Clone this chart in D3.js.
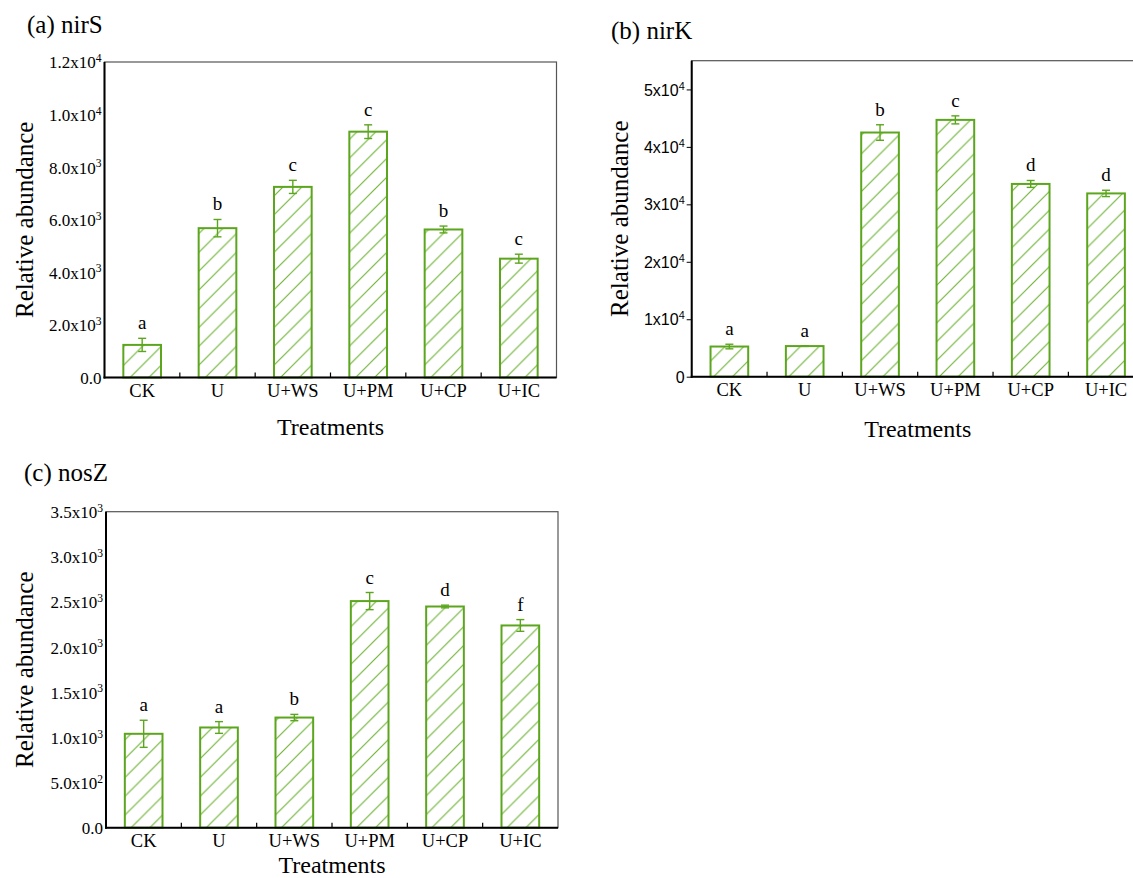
<!DOCTYPE html>
<html>
<head>
<meta charset="utf-8">
<script src="https://cdn.jsdelivr.net/npm/d3@7"></script>
<style>
  html, body { margin: 0; padding: 0; background: #fff; }
  svg { display: block; }
</style>
</head>
<body>
<svg id="chart" width="1133" height="878"></svg>
<script>
// ---------------- DATA ----------------
const categories = ["CK", "U", "U+WS", "U+PM", "U+CP", "U+IC"];

const nirSValues  = [1240, 5680, 7250, 9350, 5630, 4520];
const nirSErrors  = [250, 330, 250, 260, 130, 170];
const nirSLetters = ["a", "b", "c", "c", "b", "c"];
const nirSTicks   = [0, 2000, 4000, 6000, 8000, 10000, 12000];
const nirSTickLabels = ["0.0", "2.0x10^3", "4.0x10^3", "6.0x10^3", "8.0x10^3", "1.0x10^4", "1.2x10^4"];

const nirKValues  = [5250, 5330, 42500, 44700, 33550, 31900];
const nirKErrors  = [400, 60, 1350, 700, 600, 550];
const nirKLetters = ["a", "a", "b", "c", "d", "d"];
const nirKTicks   = [0, 10000, 20000, 30000, 40000, 50000];
const nirKTickLabels = ["0", "1x10^4", "2x10^4", "3x10^4", "4x10^4", "5x10^4"];

const nosZValues  = [1040, 1110, 1220, 2510, 2450, 2240];
const nosZErrors  = [150, 65, 35, 95, 15, 65];
const nosZLetters = ["a", "a", "b", "c", "d", "f"];
const nosZTicks   = [0, 500, 1000, 1500, 2000, 2500, 3000, 3500];
const nosZTickLabels = ["0.0", "5.0x10^2", "1.0x10^3", "1.5x10^3", "2.0x10^3", "2.5x10^3", "3.0x10^3", "3.5x10^3"];

const xTitle = "Treatments";
const yTitle = "Relative abundance";

// ---------------- STYLE / LAYOUT ----------------
const GREEN = "#5ca61e";
const HATCH = "#6db234";
const SERIF = "'Liberation Serif', 'Times New Roman', serif";
const SANS  = "'Liberation Sans', Arial, sans-serif";

const svg = d3.select("#chart");
svg.append("rect").attr("width", 1133).attr("height", 878).attr("fill", "#fff");

const defs = svg.append("defs");
const P = 18.8;
const pat = defs.append("pattern")
  .attr("id", "hatch")
  .attr("patternUnits", "userSpaceOnUse")
  .attr("width", P).attr("height", P);
pat.append("rect").attr("width", P).attr("height", P).attr("fill", "#fff");
pat.append("path")
  .attr("d", `M0,${P} L${P},0 M${-P/4},${P/4} L${P/4},${-P/4} M${P*3/4},${P*5/4} L${P*5/4},${P*3/4}`)
  .attr("stroke", HATCH).attr("stroke-width", 1.1).attr("fill", "none");

const panels = [
  { title: "(a) nirS", tx: 27, ty: 33, left: 104.5, top: 62, bottom: 377.5, width: 452,
    values: nirSValues, errors: nirSErrors, letters: nirSLetters,
    ticks: nirSTicks, tickLabels: nirSTickLabels, max: 12000, sans: false, yTickLen: 0,
    yTitleX: 33, xTitleY: 435 },
  { title: "(b) nirK", tx: 611, ty: 39, left: 691.7, top: 60.7, bottom: 376.7, width: 452,
    values: nirKValues, errors: nirKErrors, letters: nirKLetters,
    ticks: nirKTicks, tickLabels: nirKTickLabels, max: 55000, sans: true, yTickLen: 5,
    yTitleX: 628, xTitleY: 437 },
  { title: "(c) nosZ", tx: 24, ty: 481, left: 106, top: 511.7, bottom: 827.7, width: 452,
    values: nosZValues, errors: nosZErrors, letters: nosZLetters,
    ticks: nosZTicks, tickLabels: nosZTickLabels, max: 3500, sans: false, yTickLen: 0,
    yTitleX: 33, xTitleY: 872.5 }
];

function superscriptLabel(sel, size) {
  sel.each(function() {
    const t = d3.select(this);
    const s = t.text();
    const parts = s.split("^");
    t.text(null);
    t.append("tspan").text(parts[0]);
    if (parts.length > 1) {
      t.append("tspan").attr("dy", "-0.55em").attr("font-size", size * 0.68).text(parts[1]);
    }
  });
}

panels.forEach(p => {
  const g = svg.append("g");
  const x = d3.scaleBand().domain(categories)
    .range([p.left, p.left + p.width])
    .paddingInner(0.5).paddingOuter(0.25);
  const y = d3.scaleLinear().domain([0, p.max]).range([p.bottom, p.top]);

  // frame (top/right thin)
  g.append("rect")
    .attr("x", p.left).attr("y", p.top)
    .attr("width", p.width).attr("height", p.bottom - p.top)
    .attr("fill", "none").attr("stroke", "#555").attr("stroke-width", 1.2);

  // bars
  const data = categories.map((c, i) => ({ c, v: p.values[i], e: p.errors[i], l: p.letters[i] }));
  g.selectAll("rect.bar").data(data).enter().append("rect")
    .attr("class", "bar")
    .attr("x", d => x(d.c))
    .attr("y", d => y(d.v))
    .attr("width", x.bandwidth())
    .attr("height", d => y(0) - y(d.v))
    .attr("fill", "url(#hatch)")
    .attr("stroke", GREEN).attr("stroke-width", 2);

  // error bars
  const eb = g.selectAll("g.err").data(data).enter().append("g").attr("class", "err")
    .attr("stroke", GREEN).attr("stroke-width", 1.4).attr("fill", "none");
  const cx = d => x(d.c) + x.bandwidth() / 2;
  eb.append("line").attr("x1", cx).attr("x2", cx)
    .attr("y1", d => y(d.v + d.e)).attr("y2", d => y(d.v - d.e));
  eb.append("line").attr("x1", d => cx(d) - 4).attr("x2", d => cx(d) + 4)
    .attr("y1", d => y(d.v + d.e)).attr("y2", d => y(d.v + d.e));
  eb.append("line").attr("x1", d => cx(d) - 4).attr("x2", d => cx(d) + 4)
    .attr("y1", d => y(d.v - d.e)).attr("y2", d => y(d.v - d.e));

  // significance letters
  g.selectAll("text.letter").data(data).enter().append("text")
    .attr("class", "letter")
    .attr("x", cx)
    .attr("y", d => y(d.v + d.e) - 9)
    .attr("text-anchor", "middle")
    .attr("font-family", SERIF).attr("font-size", 19)
    .text(d => d.l);

  // y axis
  const yAxis = d3.axisLeft(y)
    .tickValues(p.ticks)
    .tickSize(p.yTickLen)
    .tickPadding(p.yTickLen ? 2 : 3)
    .tickFormat((d, i) => p.tickLabels[i]);
  const ya = g.append("g").attr("transform", `translate(${p.left},0)`).call(yAxis);
  ya.select(".domain").remove();
  ya.selectAll(".tick line").attr("stroke", "#000").attr("stroke-width", 1);
  const fs = p.sans ? 16 : 17;
  ya.selectAll(".tick text")
    .attr("font-family", p.sans ? SANS : SERIF)
    .attr("font-size", fs).attr("fill", "#000")
    .attr("dy", "0.35em")
    .call(superscriptLabel, fs);

  // x axis (labels at centers)
  const xAxis = d3.axisBottom(x).tickSize(0).tickPadding(6.5);
  const xa = g.append("g").attr("transform", `translate(0,${p.bottom})`).call(xAxis);
  xa.select(".domain").remove();
  xa.selectAll(".tick text")
    .attr("font-family", SERIF).attr("font-size", 18.5).attr("fill", "#000");

  // inward separator ticks between categories
  const seps = categories.slice(1).map(c => x(c) - (x.step() - x.bandwidth()) / 2);
  g.selectAll("line.sep").data(seps).enter().append("line")
    .attr("x1", d => d).attr("x2", d => d)
    .attr("y1", p.bottom).attr("y2", p.bottom - 5)
    .attr("stroke", "#000").attr("stroke-width", 1.2);

  // main axis lines
  g.append("line").attr("x1", p.left).attr("x2", p.left)
    .attr("y1", p.top).attr("y2", p.bottom + 1)
    .attr("stroke", "#000").attr("stroke-width", 2);
  g.append("line").attr("x1", p.left - 1).attr("x2", p.left + p.width)
    .attr("y1", p.bottom).attr("y2", p.bottom)
    .attr("stroke", "#000").attr("stroke-width", 2);

  // axis titles
  g.append("text")
    .attr("x", p.left + p.width / 2).attr("y", p.xTitleY)
    .attr("text-anchor", "middle")
    .attr("font-family", SERIF).attr("font-size", 24)
    .text(xTitle);
  g.append("text")
    .attr("transform", `translate(${p.yTitleX},${(p.top + p.bottom) / 2}) rotate(-90)`)
    .attr("text-anchor", "middle")
    .attr("font-family", SERIF).attr("font-size", 25)
    .text(yTitle);

  // panel title
  g.append("text")
    .attr("x", p.tx).attr("y", p.ty)
    .attr("font-family", SERIF).attr("font-size", 25)
    .text(p.title);
});
</script>
</body>
</html>
